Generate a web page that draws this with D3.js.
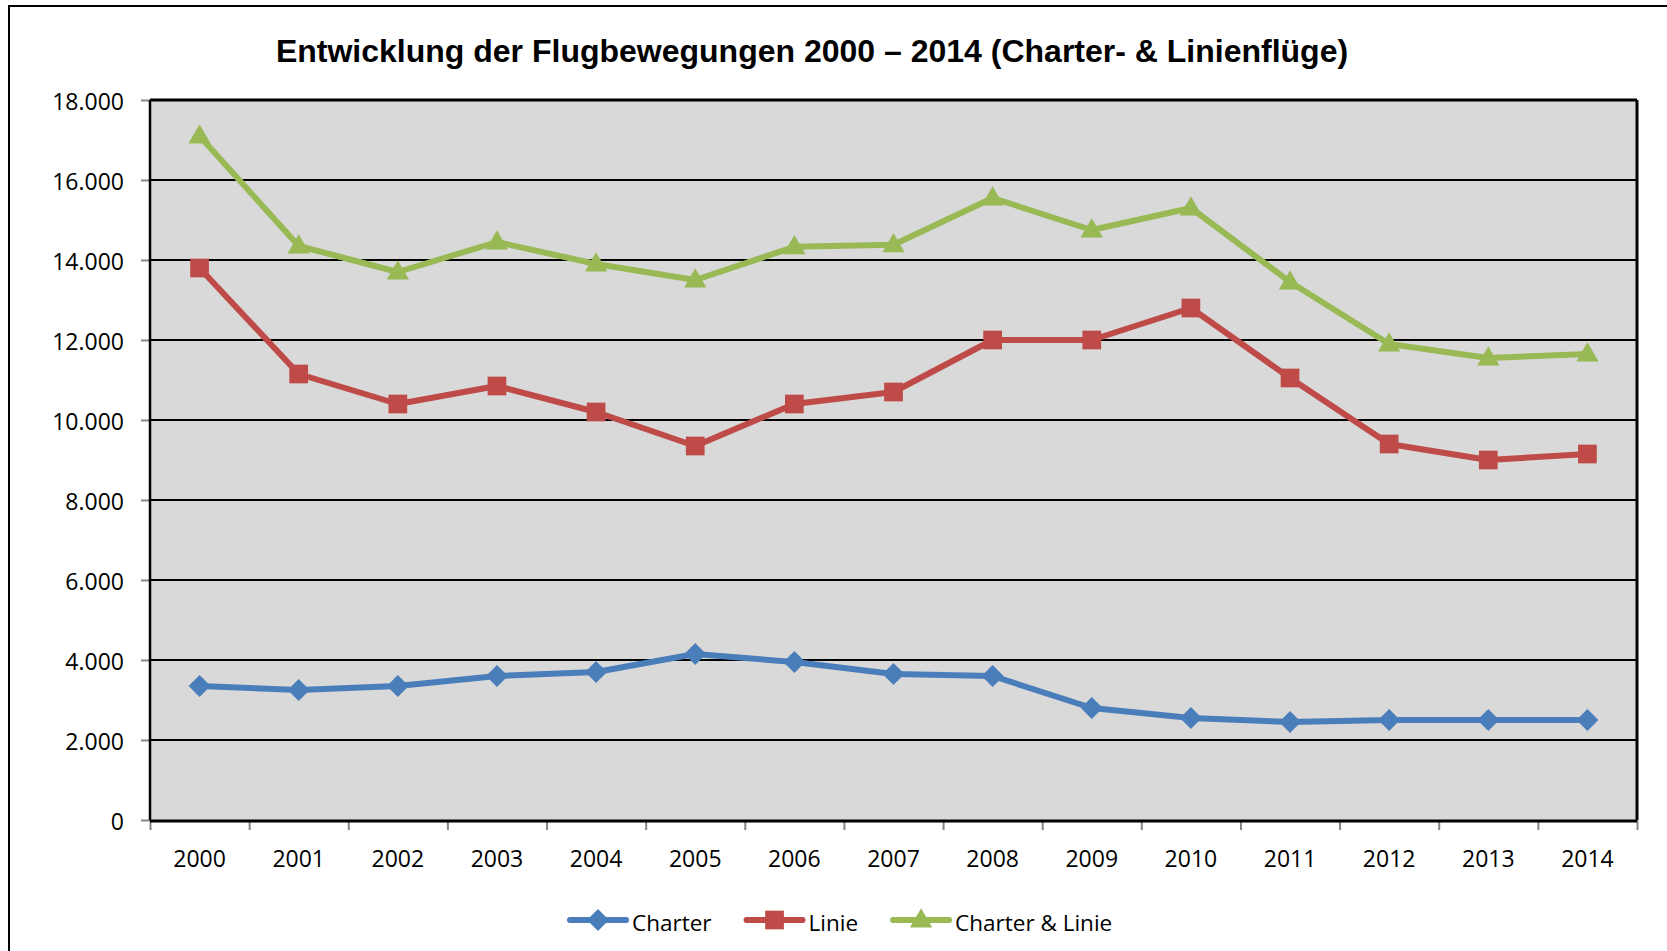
<!DOCTYPE html>
<html lang="de">
<head>
  <meta charset="UTF-8">
  <title>Flugbewegungen 2000 - 2014</title>
  <script src="https://cdnjs.cloudflare.com/ajax/libs/d3/7.9.0/d3.min.js"></script>
  <style>
    body { margin: 0; background: #fff; }
  </style>
</head>
<body>
  <div id="wrapper"></div>
  <script>
    // data
    const years = ['2000','2001','2002','2003','2004','2005','2006','2007','2008','2009','2010','2011','2012','2013','2014']
    const charter = [3350, 3250, 3350, 3600, 3700, 4150, 3950, 3650, 3600, 2800, 2550, 2450, 2500, 2500, 2500]
    const linie = [13800, 11150, 10400, 10850, 10200, 9350, 10400, 10700, 12000, 12000, 12800, 11050, 9400, 9000, 9150]
    const charterLinie = [17100, 14350, 13700, 14450, 13900, 13500, 14330, 14380, 15550, 14750, 15300, 13450, 11900, 11550, 11650]
    const yTicks = [0, 2000, 4000, 6000, 8000, 10000, 12000, 14000, 16000, 18000]
    const seriesNames = ['Charter', 'Linie', 'Charter & Linie']
    const title = 'Entwicklung der Flugbewegungen 2000 – 2014 (Charter- & Linienflüge)'

    const dimensions = {
      width: 1667,
      height: 951,
      margin: { top: 100, right: 30, bottom: 131, left: 150 }
    }
    dimensions.boundedWidth = dimensions.width - dimensions.margin.left - dimensions.margin.right
    dimensions.boundedHeight = dimensions.height - dimensions.margin.top - dimensions.margin.bottom

    const labelFont = '"Open Sans", "Liberation Sans", Arial, sans-serif'
    const de = d3.formatLocale({ decimal: ',', thousands: '.', grouping: [3], currency: ['', ' €'] })
    const fmt = de.format(',')

    const svg = d3.select('#wrapper').append('svg')
      .attr('width', dimensions.width)
      .attr('height', dimensions.height)

    // outer chart frame (runs off the right and bottom edge)
    svg.append('rect')
      .attr('x', 9).attr('y', 6)
      .attr('width', 1720).attr('height', 1000)
      .attr('fill', '#fff')
      .attr('stroke', '#000').attr('stroke-width', 2)

    svg.append('text')
      .attr('x', 812).attr('y', 62)
      .attr('text-anchor', 'middle')
      .style('font-family', '"Liberation Sans", Arial, sans-serif')
      .style('font-weight', 'bold')
      .style('font-size', '32px')
      .text(title)

    const bounds = svg.append('g')
      .attr('transform', `translate(${dimensions.margin.left}, ${dimensions.margin.top})`)

    const xScale = d3.scaleBand()
      .domain(years)
      .range([0, dimensions.boundedWidth])
    const xCenter = d => xScale(d) + xScale.bandwidth() / 2
    const xEdges = d3.scaleLinear().domain([0, years.length]).range([0, dimensions.boundedWidth])

    const yScale = d3.scaleLinear()
      .domain([0, 18000])
      .range([dimensions.boundedHeight, 0])

    // plot area
    bounds.append('rect')
      .attr('width', dimensions.boundedWidth)
      .attr('height', dimensions.boundedHeight)
      .attr('fill', '#d9d9d9')

    // gridlines
    bounds.append('g')
      .selectAll('line')
      .data(yTicks.filter(d => d > 0 && d < 18000))
      .join('line')
      .attr('x1', 0).attr('x2', dimensions.boundedWidth)
      .attr('y1', d => yScale(d)).attr('y2', d => yScale(d))
      .attr('stroke', '#000').attr('stroke-width', 2)

    // y axis
    const yAxis = bounds.append('g')
      .call(d3.axisLeft(yScale).tickValues(yTicks).tickFormat(fmt).tickSize(9).tickPadding(17))
    yAxis.select('.domain').remove()
    yAxis.selectAll('.tick line').attr('stroke', '#868686').attr('stroke-width', 2)
    yAxis.selectAll('.tick text')
      .attr('dy', '0.42em')
      .attr('fill', '#000')
      .style('font-family', labelFont)
      .style('font-size', '23px')

    // x axis: tick marks on category edges, labels in the middle
    const xTicks = bounds.append('g')
      .attr('transform', `translate(0, ${dimensions.boundedHeight})`)
      .call(d3.axisBottom(xEdges).tickValues(d3.range(years.length + 1)).tickFormat('').tickSize(10))
    xTicks.select('.domain').remove()
    xTicks.selectAll('.tick line').attr('stroke', '#868686').attr('stroke-width', 2)

    const xAxis = bounds.append('g')
      .attr('transform', `translate(0, ${dimensions.boundedHeight})`)
      .call(d3.axisBottom(xScale).tickSize(0).tickPadding(31))
    xAxis.select('.domain').remove()
    xAxis.selectAll('.tick text')
      .attr('fill', '#000')
      .style('font-family', labelFont)
      .style('font-size', '23px')

    // plot border
    const frame = bounds.append('g').attr('stroke', '#000').attr('fill', 'none')
    frame.append('line').attr('x1', 0).attr('x2', dimensions.boundedWidth).attr('y1', 0).attr('y2', 0).attr('stroke-width', 3)
    frame.append('line').attr('x1', dimensions.boundedWidth).attr('x2', dimensions.boundedWidth)
      .attr('y1', 0).attr('y2', dimensions.boundedHeight).attr('stroke-width', 3)
    frame.append('line').attr('x1', 0).attr('x2', dimensions.boundedWidth)
      .attr('y1', dimensions.boundedHeight + 1).attr('y2', dimensions.boundedHeight + 1).attr('stroke-width', 3)
    frame.append('line').attr('x1', 0).attr('x2', 0).attr('y1', 0).attr('y2', dimensions.boundedHeight).attr('stroke-width', 2.5)

    const series = [
      { name: seriesNames[0], values: charter, color: '#4a7ebb', symbol: d3.symbolSquare, size: 240, rotate: 45 },
      { name: seriesNames[1], values: linie, color: '#be4b48', symbol: d3.symbolSquare, size: 350, rotate: 0 },
      { name: seriesNames[2], values: charterLinie, color: '#98b954', symbol: d3.symbolTriangle, size: 215, rotate: 0 }
    ]

    const lineGenerator = d3.line()
      .x((d, i) => xCenter(years[i]))
      .y(d => yScale(d))

    series.forEach(s => {
      const g = bounds.append('g')
      g.append('path')
        .attr('d', lineGenerator(s.values))
        .attr('fill', 'none')
        .attr('stroke', s.color)
        .attr('stroke-width', 6)
        .attr('stroke-linejoin', 'round')
      g.selectAll('path.marker')
        .data(s.values)
        .join('path')
        .attr('class', 'marker')
        .attr('d', d3.symbol(s.symbol, s.size)())
        .attr('transform', (d, i) => `translate(${xCenter(years[i])}, ${yScale(d) + (s.symbol === d3.symbolTriangle ? 1 : 0)}) rotate(${s.rotate})`)
        .attr('fill', s.color)
    })

    // legend
    const legend = svg.append('g').attr('transform', 'translate(570, 920)')
    let offset = 0
    series.forEach(s => {
      const item = legend.append('g').attr('transform', `translate(${offset}, 0)`)
      item.append('line')
        .attr('x1', 0).attr('x2', 56)
        .attr('stroke', s.color).attr('stroke-width', 6).attr('stroke-linecap', 'round')
      item.append('path')
        .attr('d', d3.symbol(s.symbol, s.size)())
        .attr('transform', `translate(28, ${s.symbol === d3.symbolTriangle ? 1 : 0}) rotate(${s.rotate})`)
        .attr('fill', s.color)
      const t = item.append('text')
        .attr('x', 62).attr('y', 11)
        .style('font-family', labelFont)
        .style('font-size', '22.5px')
        .text(s.name)
      offset += 62 + t.node().getComputedTextLength() + 35
    })
  </script>
</body>
</html>
